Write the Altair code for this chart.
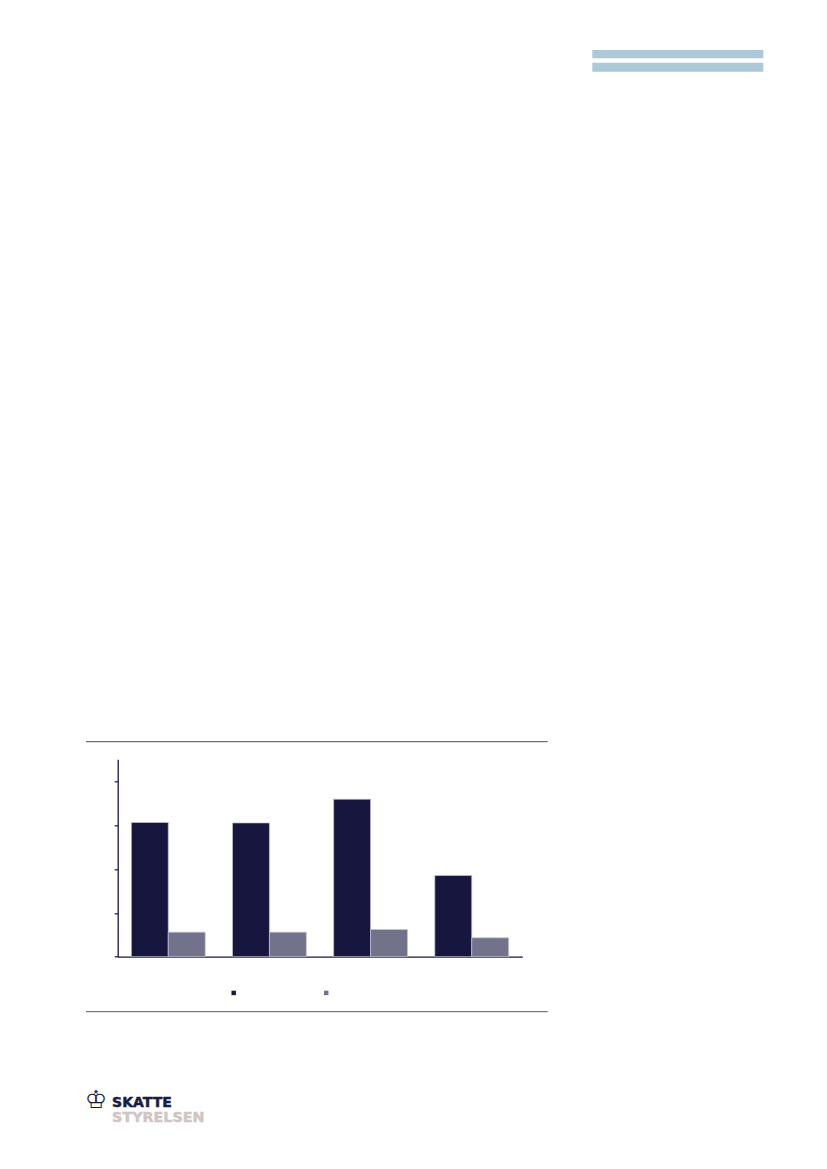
import altair as alt
import pandas as pd

# ---- data ----
categories = ["Gruppe 1", "Gruppe 2", "Gruppe 3", "Gruppe 4"]
series = ["Serie 1", "Serie 2"]
serie1_values = [30.6, 30.5, 35.9, 18.5]
serie2_values = [5.6, 5.6, 6.2, 4.3]
y_ticks = [0, 10, 20, 30, 40]
logo_lines = ["SKATTE", "STYRELSEN"]
crown = ["♔"]

DARK = "#16163f"
LIGHT = "#72728a"

rows = []
for c, a, b in zip(categories, serie1_values, serie2_values):
    rows.append({"cat": c, "series": series[0], "value": a})
    rows.append({"cat": c, "series": series[1], "value": b})
df = pd.DataFrame(rows)

W, H = 404.6, 197.4

bars = alt.Chart(df).mark_bar(stroke="#c4c4d4", strokeWidth=0.7).encode(
    x=alt.X("cat:N", sort=categories,
            scale=alt.Scale(paddingInner=0.27, paddingOuter=0.135),
            axis=alt.Axis(title=None, labels=False, ticks=False, grid=False,
                          domainColor=DARK, domainWidth=1.3)),
    xOffset=alt.XOffset("series:N", sort=series,
                        scale=alt.Scale(paddingInner=0, paddingOuter=0)),
    y=alt.Y("value:Q", scale=alt.Scale(domain=[0, 45], nice=False, zero=True),
            axis=alt.Axis(title=None, labels=False, values=y_ticks, grid=False,
                          tickSize=3.5, tickColor=DARK, tickWidth=1.2,
                          domainColor=DARK, domainWidth=1.3)),
    color=alt.Color("series:N", sort=series,
                    scale=alt.Scale(domain=series, range=[DARK, LIGHT]),
                    legend=alt.Legend(orient="none", legendX=113.5, legendY=231,
                                      direction="horizontal", title=None,
                                      symbolType="square", symbolSize=20,
                                      symbolStrokeWidth=0, labelExpr="''",
                                      labelFontSize=4, labelOffset=0,
                                      columnPadding=87.5, padding=0)),
)

one = pd.DataFrame({"k": [0]})

# horizontal separator rules above and below chart
rule_top = alt.Chart(one).mark_rule(color="#6f6f6f", strokeWidth=1.3).encode(
    x=alt.value(-31.7), x2=alt.value(430), y=alt.value(-17.6))
rule_bottom = alt.Chart(one).mark_rule(color="#77778a", strokeWidth=1.3).encode(
    x=alt.value(-31.7), x2=alt.value(430), y=alt.value(252.4))

# top-right decorative strips
strip1 = alt.Chart(one).mark_rect(color="#abc9d7").encode(
    x=alt.value(474.6), x2=alt.value(645.6), y=alt.value(-709.3), y2=alt.value(-701))
strip2 = alt.Chart(one).mark_rect(color="#abc9d7").encode(
    x=alt.value(474.6), x2=alt.value(645.6), y=alt.value(-696.6), y2=alt.value(-687.6))

# logo
logo1 = alt.Chart(pd.DataFrame({"t": [logo_lines[0]]})).mark_text(
    font="DejaVu Sans", fontWeight="bold", fontSize=14, color="#1b1b44",
    align="left", baseline="alphabetic", stroke="#1b1b44", strokeWidth=0.5).encode(
    text="t:N", x=alt.value(-5.6), y=alt.value(347.4))
logo2 = alt.Chart(pd.DataFrame({"t": [logo_lines[1]]})).mark_text(
    font="DejaVu Sans", fontWeight="bold", fontSize=14.3, color="#cfc6c3",
    align="left", baseline="alphabetic", stroke="#cfc6c3", strokeWidth=0.5).encode(
    text="t:N", x=alt.value(-5.6), y=alt.value(362.4))
crown_mark = alt.Chart(pd.DataFrame({"t": crown})).mark_text(
    font="DejaVu Sans", fontSize=25, color="#1b1b44",
    align="center", baseline="alphabetic").encode(
    text="t:N", x=alt.value(-21.7), y=alt.value(348.5))

chart = alt.layer(bars, rule_top, rule_bottom, strip1, strip2, logo1, logo2, crown_mark).properties(
    width=W, height=H,
    autosize=alt.AutoSizeParams(type="none"),
    padding={"left": 109.7, "top": 751.3, "right": 296.7, "bottom": 204.3},
    background="white",
).configure_view(stroke=None)

chart.save("out.html", embed_options={"renderer": "svg", "actions": False})
